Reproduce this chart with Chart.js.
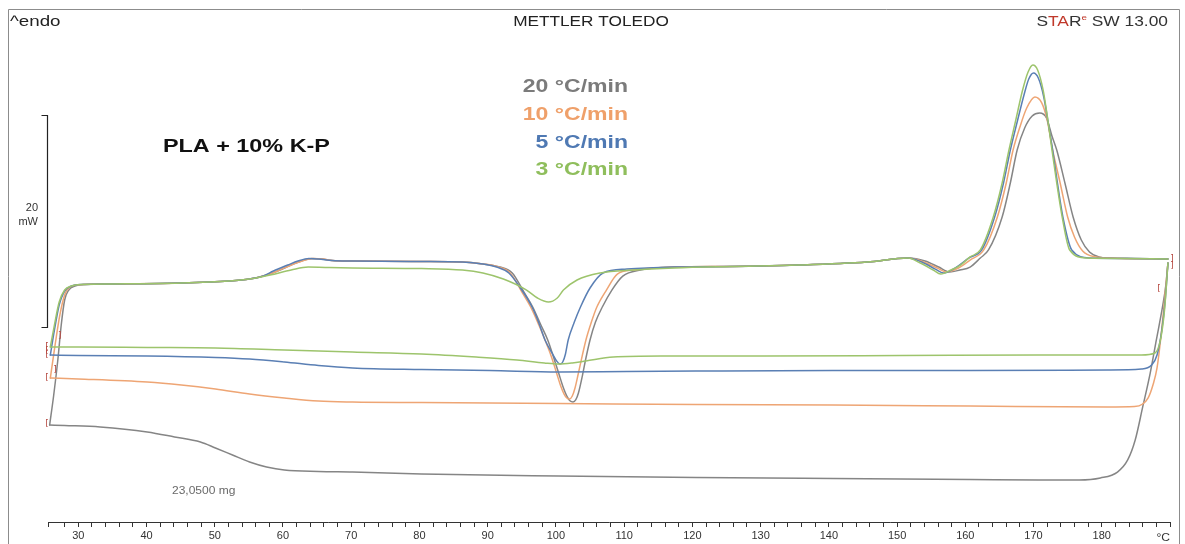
<!DOCTYPE html>
<html>
<head>
<meta charset="utf-8">
<script src="https://cdn.jsdelivr.net/npm/chart.js@4.4.1/dist/chart.umd.min.js"></script>
<style>
  html, body { margin: 0; padding: 0; background: #ffffff; }
  canvas { display: block; }
</style>
</head>
<body>
<canvas id="dsc" width="1185" height="544"></canvas>
<script>
// DSC curves of PLA + 10% K-P at four heating/cooling rates.
// Temperature in °C, heat flow in mW (endothermic up).

const RATES = ['20 °C/min', '10 °C/min', '5 °C/min', '3 °C/min'];

// ---- 20 °C/min ----
const T_HEAT_20 = [25.8, 26.4, 27.0, 27.5, 28.0, 28.6, 29.5, 31, 35, 45.1, 52.1, 55.1, 57.1, 59.2, 61.2, 62.7, 64.2, 65.7, 67.2, 70.2, 80.3, 86.3, 89.3, 91.8, 93.6, 95.3, 96.6, 97.8, 98.8, 99.6, 100.4, 101.0, 101.6, 102.1, 102.5, 102.9, 103.3, 103.9, 104.4, 105.0, 105.8, 106.8, 108.2, 109.8, 112.4, 117.4, 125.5, 135.5, 145.6, 151.6, 154.1, 156.1, 157.7, 159.2, 160.7, 162.2, 163.4, 165.4, 166.6, 167.6, 168.7, 169.8, 170.9, 171.9, 172.7, 173.4, 174.6, 175.8, 177.0, 178.2, 179.6, 181.3, 184.8, 189.7];
const Q_HEAT_20 = [8.87, 11.70, 15.00, 18.30, 20.66, 21.60, 21.98, 22.12, 22.17, 22.26, 22.45, 22.64, 22.92, 23.40, 23.96, 24.34, 24.58, 24.53, 24.39, 24.34, 24.29, 24.25, 24.06, 23.77, 23.21, 21.42, 20.00, 18.30, 16.89, 15.38, 13.77, 12.55, 11.60, 11.13, 11.04, 11.23, 11.89, 13.58, 15.19, 16.89, 18.58, 20.00, 21.60, 22.92, 23.49, 23.77, 23.82, 23.96, 24.25, 24.62, 24.34, 23.77, 23.30, 23.49, 23.77, 24.62, 25.38, 28.49, 31.70, 34.81, 36.89, 38.02, 38.30, 37.83, 36.13, 34.81, 31.70, 28.49, 26.32, 25.19, 24.72, 24.62, 24.58, 24.53];
const T_COOL_20 = [25.8, 28, 33.2, 40.1, 44.1, 47.9, 50.1, 52.6, 55.1, 57.6, 60.2, 65.2, 70.2, 80.3, 100.4, 120.5, 140.6, 160.7, 170.7, 176.7, 179.8, 182.3, 183.8, 184.9, 186.0, 187.1, 188.0, 188.9, 189.4, 189.7];
const Q_COOL_20 = [8.87, 8.82, 8.68, 8.21, 7.74, 7.26, 6.70, 6.04, 5.38, 4.91, 4.62, 4.48, 4.43, 4.25, 4.06, 3.92, 3.82, 3.73, 3.68, 3.68, 3.87, 4.43, 5.57, 7.45, 10.57, 13.77, 16.89, 20.00, 22.08, 24.15];

// ---- 10 °C/min ----
const T_HEAT_10 = [25.9, 26.6, 27.3, 28.0, 28.8, 30, 35, 45.1, 52.1, 55.1, 57.1, 59.2, 61.2, 62.8, 64.4, 65.9, 67.2, 70.2, 80.3, 86.3, 89.3, 91.6, 93.3, 95.0, 96.3, 97.5, 98.4, 99.3, 100.1, 100.7, 101.2, 101.6, 102.0, 102.4, 102.8, 103.3, 104.4, 105.2, 106.0, 107.4, 109.0, 111.4, 117.4, 125.5, 135.5, 145.6, 151.6, 153.9, 155.9, 157.2, 159.0, 160.7, 162.7, 164.7, 166.0, 167.0, 168.0, 169.0, 170.2, 171.2, 172.0, 172.8, 173.9, 175.0, 176.0, 177.2, 178.8, 182.8, 189.7];
const Q_HEAT_10 = [13.30, 16.42, 19.25, 21.13, 21.89, 22.08, 22.17, 22.26, 22.45, 22.64, 22.92, 23.40, 23.96, 24.34, 24.58, 24.53, 24.39, 24.34, 24.29, 24.25, 24.06, 23.77, 23.21, 21.42, 20.00, 18.30, 16.89, 15.38, 13.77, 12.55, 11.79, 11.42, 11.32, 11.60, 12.36, 13.77, 16.89, 18.58, 20.00, 21.60, 23.11, 23.49, 23.77, 23.82, 23.96, 24.25, 24.62, 24.25, 23.68, 23.30, 23.68, 24.43, 25.38, 28.49, 31.70, 34.81, 36.98, 38.77, 39.81, 39.25, 37.64, 34.81, 31.70, 28.49, 26.60, 25.28, 24.76, 24.58, 24.53];
const T_COOL_10 = [25.9, 30, 40.1, 45.1, 50.1, 55.1, 60.2, 65.2, 70.2, 80.3, 100.4, 120.5, 140.6, 160.7, 180.8, 184.8, 186.0, 186.8, 187.5, 188.1, 188.7, 189.2, 189.7];
const Q_COOL_10 = [13.30, 13.21, 12.92, 12.64, 12.26, 11.79, 11.42, 11.13, 11.04, 10.99, 10.90, 10.80, 10.75, 10.66, 10.57, 10.61, 10.85, 11.42, 12.64, 14.25, 17.36, 20.66, 24.15];

// ---- 5 °C/min ----
const T_HEAT_5 = [25.9, 26.5, 27.2, 28.0, 29.0, 30.5, 35, 45.1, 52.1, 55.1, 57.1, 58.6, 60.7, 62.2, 63.8, 65.2, 67.2, 70.2, 80.3, 86.3, 89.3, 91.3, 93.1, 94.8, 96.5, 97.5, 98.4, 99.6, 100.1, 100.6, 101.0, 101.4, 101.8, 102.7, 103.6, 105.0, 106.9, 110.4, 117.4, 125.5, 135.5, 145.6, 151.6, 153.6, 155.6, 156.8, 158.7, 160.5, 162.4, 164.3, 165.6, 166.6, 167.6, 168.6, 169.3, 170.0, 170.7, 171.5, 172.2, 172.8, 173.5, 174.3, 175.6, 178.3, 182.8, 189.7];
const Q_HEAT_5 = [15.47, 17.83, 20.19, 21.51, 21.98, 22.12, 22.17, 22.26, 22.45, 22.64, 22.92, 23.40, 23.96, 24.34, 24.58, 24.53, 24.39, 24.34, 24.29, 24.25, 24.06, 23.77, 23.21, 21.79, 20.00, 18.49, 16.89, 15.47, 14.91, 14.62, 14.81, 15.57, 16.89, 18.58, 20.00, 21.79, 23.21, 23.58, 23.77, 23.82, 23.96, 24.25, 24.62, 24.25, 23.58, 23.21, 23.77, 24.62, 25.38, 28.49, 31.70, 34.81, 37.45, 40.00, 41.51, 42.08, 41.60, 39.81, 37.17, 34.81, 31.70, 28.49, 25.38, 24.62, 24.58, 24.53];
const T_COOL_5 = [25.9, 30, 40.1, 50.1, 55.1, 60.2, 65.2, 70.2, 80.3, 90.3, 100.4, 110.4, 120.5, 140.6, 160.7, 180.8, 185.8, 187.3, 188.1, 188.8, 189.3, 189.7];
const Q_COOL_5 = [15.47, 15.42, 15.38, 15.24, 15.09, 14.81, 14.48, 14.25, 14.10, 14.01, 13.87, 13.92, 13.96, 14.01, 14.01, 14.06, 14.15, 14.53, 15.47, 17.83, 20.66, 24.15];

// ---- 3 °C/min ----
const T_HEAT_3 = [25.9, 26.5, 27.2, 28.0, 29.0, 30.5, 35, 45.1, 52.1, 55.1, 58.1, 61.2, 63.7, 66.2, 70.2, 80.3, 86.3, 89.3, 92.3, 95.7, 97.3, 98.9, 100.2, 101.1, 103.1, 106.5, 111.4, 117.4, 125.5, 135.5, 145.6, 151.6, 153.4, 155.3, 156.4, 157.9, 159.3, 160.7, 162.2, 164.1, 165.4, 166.4, 167.4, 168.4, 169.2, 169.9, 170.6, 171.4, 172.1, 172.7, 173.4, 174.2, 175.3, 177.8, 182.8, 189.7];
const Q_HEAT_3 = [16.23, 18.30, 20.47, 21.60, 21.98, 22.12, 22.17, 22.26, 22.45, 22.64, 23.02, 23.49, 23.77, 23.73, 23.68, 23.63, 23.49, 23.21, 22.64, 21.60, 20.85, 20.47, 20.85, 21.60, 22.55, 23.21, 23.49, 23.68, 23.82, 23.96, 24.25, 24.62, 24.15, 23.49, 23.11, 23.49, 23.96, 24.72, 25.38, 28.49, 31.70, 34.81, 37.64, 40.47, 42.17, 42.83, 42.36, 40.47, 37.64, 34.81, 31.70, 28.49, 25.38, 24.62, 24.58, 24.53];
const T_COOL_3 = [25.9, 30, 40.1, 50.1, 60.2, 70.2, 80.3, 88.3, 94.3, 98.3, 100.4, 102.4, 104.4, 108.4, 115.4, 130.5, 150.6, 170.7, 185.8, 187.8, 188.6, 189.2, 189.7];
const Q_COOL_3 = [16.23, 16.23, 16.18, 16.13, 15.94, 15.75, 15.57, 15.28, 15.00, 14.72, 14.62, 14.72, 14.91, 15.28, 15.38, 15.38, 15.42, 15.47, 15.47, 15.66, 16.89, 19.72, 24.15];

// Segment end markers of the measurement (temperature, heat flow, glyph)
const MARK_T = [25.41, 25.41, 25.41, 25.41, 25.41, 26.6, 27.3, 190.3, 190.3, 188.4];
const MARK_Q = [8.96, 13.30, 15.47, 16.23, 15.85, 14.06, 17.26, 24.53, 23.87, 21.70];
const MARK_G = ['[', '[', '[', '[', '[', ']', ']', ']', ']', '['];

// Temperature axis
const T_MIN = 25.56, T_MAX = 190;
const MAJOR_FIRST = 30, MAJOR_LAST = 180, MAJOR_STEP = 10, MINOR_STEP = 2;

// Scale bar for heat flow
const BAR_FROM = 18.11, BAR_SPAN = 20;

const COLORS = ['#858585', '#eea574', '#5a7fb4', '#9dc46c'];
const TEXT_COLORS = ['#7b7b7b', '#efa06a', '#4f79b3', '#8fbe5c'];

function pts(T, Q) { return T.map((t, i) => ({ x: t, y: Q[i] })); }

const curves = [
  [T_HEAT_20, Q_HEAT_20, T_COOL_20, Q_COOL_20],
  [T_HEAT_10, Q_HEAT_10, T_COOL_10, Q_COOL_10],
  [T_HEAT_5, Q_HEAT_5, T_COOL_5, Q_COOL_5],
  [T_HEAT_3, Q_HEAT_3, T_COOL_3, Q_COOL_3]
];

const datasets = [];
// draw slow rates first so the 20 °C/min trace sits on top
for (let k = curves.length - 1; k >= 0; k--) {
  const [th, qh, tc, qc] = curves[k];
  const base = { borderColor: COLORS[k], borderWidth: 1.5, pointRadius: 0, fill: false,
                 cubicInterpolationMode: 'monotone', label: RATES[k] };
  datasets.push(Object.assign({}, base, { data: pts(tc, qc) }));
  datasets.push(Object.assign({}, base, { data: pts(th, qh) }));
}

function stretched(ctx, s, x, y, font, color, align, sx) {
  ctx.save();
  ctx.font = font;
  ctx.fillStyle = color;
  ctx.textBaseline = 'alphabetic';
  ctx.textAlign = align;
  ctx.translate(x, y);
  ctx.scale(sx, 1);
  ctx.fillText(s, 0, 0);
  ctx.restore();
}

const decorations = {
  id: 'decorations',
  beforeDraw(chart) {
    const ctx = chart.ctx;
    ctx.save();
    ctx.fillStyle = '#ffffff';
    ctx.fillRect(0, 0, chart.width, chart.height);
    ctx.restore();
  },
  afterDraw(chart) {
    const ctx = chart.ctx;
    const xs = chart.scales.x, ys = chart.scales.y;
    const area = chart.chartArea;

    // outer frame
    ctx.save();
    ctx.strokeStyle = '#8c8c8c';
    ctx.lineWidth = 1;
    ctx.beginPath();
    ctx.moveTo(8.5, chart.height);
    ctx.lineTo(8.5, 9.5);
    ctx.lineTo(1179.5, 9.5);
    ctx.lineTo(1179.5, chart.height);
    ctx.stroke();
    ctx.restore();

    // header
    const F = 'Liberation Sans, Arial, sans-serif';
    stretched(ctx, '^endo', 10, 26, '15px ' + F, '#222', 'left', 1.25);
    stretched(ctx, 'METTLER TOLEDO', 591, 26, '14px ' + F, '#222', 'center', 1.23);

    // STARe SW 13.00 (right aligned)
    ctx.save();
    const sx = 1.24;
    const runs = [
      { t: 'S', c: '#333', f: '14px ' + F, dy: 0 },
      { t: 'TA', c: '#c0392b', f: '14px ' + F, dy: 0 },
      { t: 'R', c: '#333', f: '14px ' + F, dy: 0 },
      { t: 'e', c: '#c0392b', f: '8px ' + F, dy: -6 },
      { t: ' SW 13.00', c: '#333', f: '14px ' + F, dy: 0 }
    ];
    let total = 0;
    runs.forEach(r => { ctx.font = r.f; r.w = ctx.measureText(r.t).width * sx; total += r.w; });
    let cx = 1168 - total;
    runs.forEach(r => { stretched(ctx, r.t, cx, 26 + r.dy, r.f, r.c, 'left', sx); cx += r.w; });
    ctx.restore();

    // legend of rates
    const legendY = [91.5, 119.8, 148.2, 174.8];
    RATES.forEach((s, i) => stretched(ctx, s, 628, legendY[i], 'bold 18px ' + F, TEXT_COLORS[i], 'right', 1.28));

    // sample name and mass
    stretched(ctx, 'PLA + 10% K-P', 163, 152, 'bold 19px ' + F, '#111', 'left', 1.23);
    stretched(ctx, '23,0500 mg', 172, 494, '10px ' + F, '#6a6a6a', 'left', 1.2);

    // 20 mW scale bar
    const bx = Math.round(area.left) - 0.5;
    const y1 = Math.round(ys.getPixelForValue(BAR_FROM)) + 0.5;
    const y2 = Math.round(ys.getPixelForValue(BAR_FROM + BAR_SPAN)) + 0.5;
    ctx.save();
    ctx.strokeStyle = '#222';
    ctx.lineWidth = 1.2;
    ctx.beginPath();
    ctx.moveTo(bx - 6, y2); ctx.lineTo(bx, y2); ctx.lineTo(bx, y1); ctx.lineTo(bx - 6, y1);
    ctx.stroke();
    ctx.restore();
    const midY = (y1 + y2) / 2;
    stretched(ctx, String(BAR_SPAN), 38, midY - 11, '10px ' + F, '#333', 'right', 1.1);
    stretched(ctx, 'mW', 38, midY + 3, '10px ' + F, '#333', 'right', 1.1);

    // unit at the end of the temperature axis
    stretched(ctx, '°C', area.right, 541, '11px ' + F, '#333', 'right', 1.1);

    // segment markers
    ctx.save();
    ctx.font = '9px DejaVu Sans, sans-serif';
    ctx.fillStyle = '#b5473f';
    ctx.textAlign = 'center';
    ctx.textBaseline = 'middle';
    MARK_T.forEach((t, i) => {
      ctx.fillText(MARK_G[i], xs.getPixelForValue(t), ys.getPixelForValue(MARK_Q[i]));
    });
    ctx.restore();
  }
};

new Chart(document.getElementById('dsc'), {
  type: 'line',
  data: { datasets },
  options: {
    responsive: false,
    animation: false,
    devicePixelRatio: 1,
    layout: { padding: { left: 48, right: 15, top: 9, bottom: 0 } },
    plugins: { legend: { display: false }, tooltip: { enabled: false } },
    elements: { line: { borderCapStyle: 'round', borderJoinStyle: 'round' } },
    scales: {
      x: {
        type: 'linear',
        position: 'bottom',
        min: T_MIN,
        max: T_MAX,
        afterFit(scale) { scale.height = 22; },
        grid: { drawOnChartArea: false, drawTicks: true, tickLength: 5, color: '#333', lineWidth: 1 },
        border: { display: true, color: '#333', width: 1 },
        ticks: {
          stepSize: MINOR_STEP,
          autoSkip: false,
          maxRotation: 0,
          minRotation: 0,
          padding: 2,
          color: '#333',
          font: { family: 'Liberation Sans', size: 11 },
          callback: (v) => (v % MAJOR_STEP === 0 && v >= MAJOR_FIRST && v <= MAJOR_LAST) ? String(v) : ''
        }
      },
      y: { type: 'linear', display: false, min: -0.283, max: 48.113 }
    }
  },
  plugins: [decorations]
});
</script>
</body>
</html>
